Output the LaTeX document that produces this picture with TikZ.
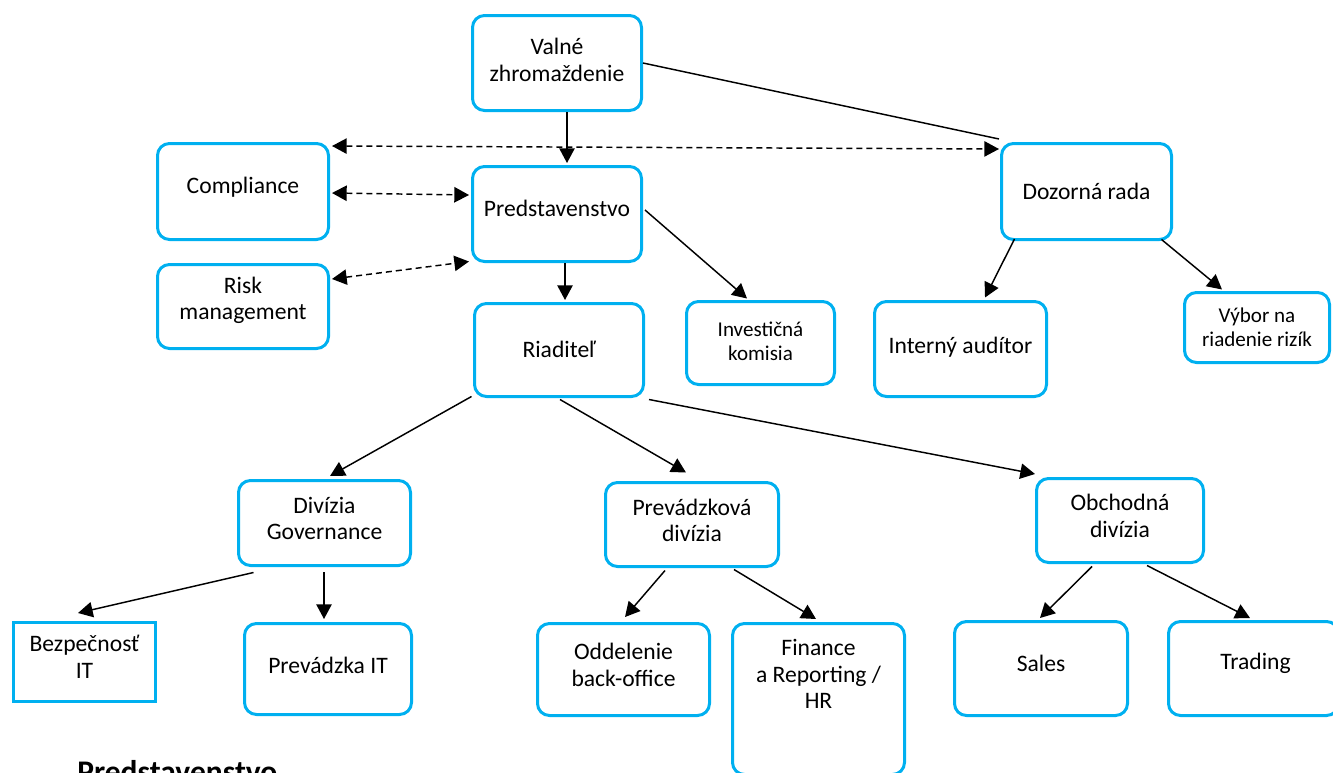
\documentclass[tikz,border=0pt]{standalone}
\usepackage{fontspec}
\setmainfont{Carlito}
\usetikzlibrary{arrows.meta,calc}
\definecolor{boxblue}{RGB}{0,176,240}
\tikzset{
  bx/.style 2 args={minimum width=#1*0.75pt, minimum height=#2*0.75pt},
  box/.style={draw=boxblue, line width=2.25pt, rounded corners=9pt, inner sep=0pt},
  sqbox/.style={draw=boxblue, line width=2.25pt, inner sep=0pt},
  txt/.style={font=\fontsize{17.7}{19.9}\selectfont, align=center, inner sep=0pt},
  stxt/.style={font=\fontsize{15.8}{18}\selectfont, align=center, inner sep=0pt},
  arr/.style={line width=1.1pt, -{Triangle[length=11pt,width=11.5pt]}},
  plain/.style={line width=1.1pt},
  darr/.style={line width=1.1pt, dash pattern=on 4.5pt off 3pt,
    {Triangle[length=11pt,width=11.5pt]}-{Triangle[length=11pt,width=11.5pt]}}
}
\begin{document}
\begin{tikzpicture}[x=0.75pt,y=-0.75pt]
\useasboundingbox (0,0) rectangle (1333,772);
% boxes
\node[box,bx={169}{95}] (valne) at (557,63) {};
\node[txt] (valneT) at (557,60) {Valné\\zhromaždenie};
\node[box,bx={169}{95}] (pred) at (557,214) {};
\node[txt] (predT) at (557,208) {Predstavenstvo};
\node[box,bx={171}{96}] (comp) at (243,191.5) {};
\node[txt] (compT) at (243,187) {Compliance};
\node[box,bx={171}{84}] (risk) at (243,306.5) {};
\node[txt] (riskT) at (243,300.5) {Risk\\management};
\node[box,bx={169}{93}] (riad) at (559,350) {};
\node[txt] (riadT) at (559,349) {Riaditeľ};
\node[box,bx={148}{83}] (invest) at (760.5,343) {};
\node[stxt] (investT) at (760.5,341) {Investičná\\komisia};
\node[box,bx={170}{96}] (dozorna) at (1086.5,191.5) {};
\node[txt] (dozornaT) at (1086.5,191) {Dozorná rada};
\node[box,bx={172}{95}] (interny) at (960.5,349) {};
\node[txt] (internyT) at (960.5,347) {Interný audítor};
\node[box,bx={145}{70}] (vybor) at (1257,327.5) {};
\node[stxt] (vyborT) at (1257,327) {Výbor na\\riadenie rizík};
\node[box,bx={172}{85}] (divgov) at (324.5,523) {};
\node[txt] (divgovT) at (324.5,518.5) {Divízia\\Governance};
\node[box,bx={173}{84}] (prevdiv) at (692,524.5) {};
\node[txt] (prevdivT) at (692,520.5) {Prevádzková\\divízia};
\node[box,bx={167}{84}] (obch) at (1120,520.5) {};
\node[txt] (obchT) at (1120,516) {Obchodná\\divízia};
\node[sqbox,bx={142}{79}] (bezp) at (84.5,662) {};
\node[txt] (bezpT) at (84.5,657) {Bezpečnosť\\IT};
\node[box,bx={167}{91}] (prevIT) at (328,669) {};
\node[txt] (prevITT) at (328,665) {Prevádzka IT};
\node[box,bx={172}{92}] (oddel) at (623.5,669.5) {};
\node[txt] (oddelT) at (623.5,665) {Oddelenie\\back-office};
\node[box,bx={172}{151}] (finance) at (818.5,699) {};
\node[txt] (financeT) at (818.5,674) {Finance\\a Reporting /\\HR};
\node[box,bx={173}{94}] (sales) at (1041,668.5) {};
\node[txt] (salesT) at (1041,663) {Sales};
\node[box,bx={170}{94}] (trading) at (1253.5,668.5) {};
\node[txt] (tradingT) at (1255.5,663) {Trading};
\node[anchor=base west, inner sep=0pt, font=\fontsize{23.6}{28}\selectfont\bfseries] (title) at (77,782) {Predstavenstvo};
% connectors
\draw[arr] ($(valne.south)+(10,0)$) -- ($(pred.north)+(10,-2)$);
\draw[plain] (valne.east) -- ($(dozorna.north west)+(-1,-3)$);
\draw[darr] ($(comp.north east)+(2,4)$) -- ($(dozorna.north west)+(-1,7)$);
\draw[darr] ($(comp.east)+(2,1.5)$) -- ($(pred.west)+(-2,-19)$);
\draw[darr] ($(risk.north east)+(2,16)$) -- ($(pred.south west)+(-2,-1.5)$);
\draw[arr] ($(pred.south)+(8,0)$) -- ($(riad.north)+(6,-2)$);
\draw[arr] ($(pred.east)+(2,-4)$) -- ($(invest.north)+(-13.5,-1.5)$);
\draw[arr] ($(dozorna.south west)+(14.5,-2)$) -- ($(interny.north)+(24.5,-2.5)$);
\draw[arr] ($(dozorna.south east)+(-11.5,-1.5)$) -- ($(vybor.north)+(-35,-1.5)$);
\draw[arr] ($(riad.south west)+(-1.5,-1.5)$) -- ($(divgov.north)+(5.5,-3)$);
\draw[arr] ($(riad.south)+(1,1.5)$) -- ($(prevdiv.north)+(-6,-8.5)$);
\draw[arr] ($(riad.south east)+(4,1.5)$) -- ($(obch.north west)+(0,-3)$);
\draw[arr] ($(divgov.south west)+(16.5,5.5)$) -- ($(bezp.north)+(-6.5,-8)$);
\draw[arr] ($(divgov.south)+(-0.5,5)$) -- ($(prevIT.north)+(-4,-3)$);
\draw[arr] ($(prevdiv.south)+(-27,2.5)$) -- ($(oddel.north)+(1.5,-5)$);
\draw[arr] ($(prevdiv.south)+(42,1.5)$) -- ($(finance.north)+(-2.5,-3)$);
\draw[arr] ($(obch.south)+(-28,2.5)$) -- ($(sales.north)+(-1,-2)$);
\draw[arr] ($(obch.south)+(27,1.5)$) -- ($(trading.north)+(-3.5,-2)$);
\end{tikzpicture}
\end{document}
